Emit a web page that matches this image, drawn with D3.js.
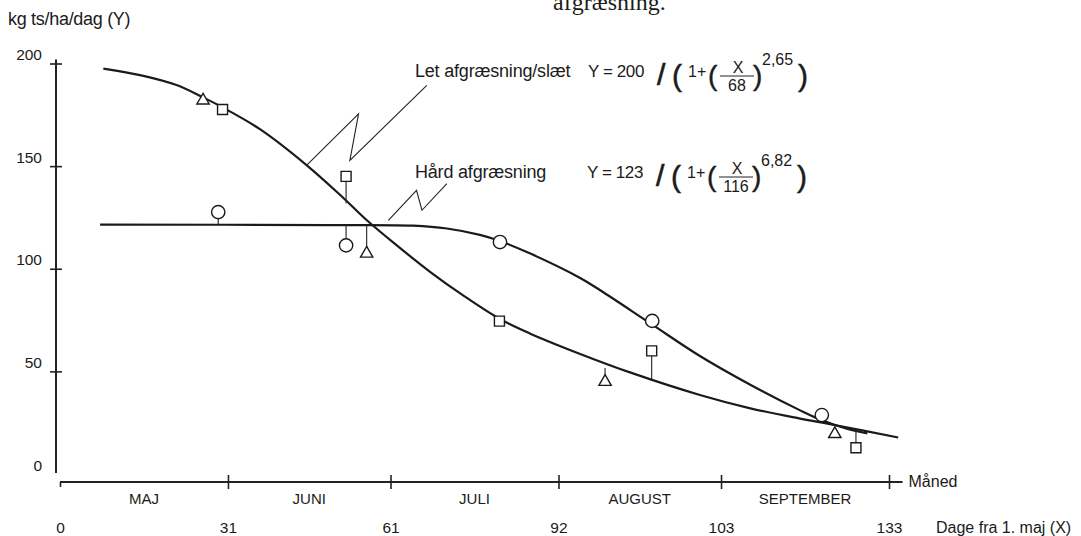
<!DOCTYPE html>
<meta charset="utf-8">
<script src="https://d3js.org/d3.v7.min.js"></script>
<head>
<style>
  body { margin: 0; background: #fff; }
  text { font-family: "Liberation Sans", Arial, sans-serif; fill: #1b1b1b; }
</style>
</head>
<body>
<div id="my_dataviz"></div>
<script>

// data: days from 1 May (X) and kg ts/ha/dag (Y)
var letCurve = [[8.0,197.5],[15.4,194.0],[21.5,189.5],[26.4,183.5],[30.1,178.5],[36.9,168.0],
  [45.5,150.5],[52.3,134.5],[56.9,123.0],[62.1,111.5],[68.3,98.5],[74.4,87.0],[81.2,75.5],
  [86.7,68.5],[96.0,58.5],[105.2,49.5],[118.1,38.5],[127.4,32.0],[136.6,27.0],[142.7,24.0],[154.7,17.8]];
var hardCurve = [[7.4,121.5],[49.8,121.3],[65.2,121.0],[71.4,119.6],[77.5,116.5],[81.2,113.5],
  [86.7,107.5],[96.0,95.5],[99.7,89.5],[108.9,73.5],[118.1,57.5],[127.4,43.5],[136.6,31.0],
  [140.3,26.5],[144.9,22.3],[149.0,19.8]];

// observations: [day, value, value on curve the stem goes to (null = on curve)]
var triangles = [[26.4,182.0,null],[56.6,107.4,121.5],[100.6,44.9,51.6],[143.0,19.5,22.9]];
var squares   = [[30.0,177.6,null],[52.8,145.0,131.9],[81.1,74.5,null],[109.2,60.0,45.3],[146.9,12.8,20.9]];
var circles   = [[29.2,127.6,121.5],[52.8,111.4,121.5],[81.2,113.0,null],[109.3,74.6,null],[140.6,28.7,null]];

// label pointers (zigzag lines)
var letPointer  = [[45.5,150.4],[55.1,175.5],[53.5,152.8],[67.7,189.3]];
var hardPointer = [[60.6,123.6],[65.8,138.2],[66.8,128.5],[71.4,141.5]];

var yTicks = [0, 50, 100, 150, 200];
var monthBounds = [0, 31, 61, 92, 122, 153];
var dayLabels = ["0", "31", "61", "92", "103", "133"];
var months = ["MAJ", "JUNI", "JULI", "AUGUST", "SEPTEMBER"];

var width = 1081, height = 536;

var svg = d3.select("#my_dataviz")
  .append("svg")
    .attr("width", width)
    .attr("height", height);

var x = d3.scaleLinear().domain([0, 153]).range([60, 889]);
var y = d3.scaleLinear().domain([0, 200]).range([474, 63.5]);
var xAxisY = 482, yAxisX = 56;

// caption fragment cut at the top of the scan
svg.append("text")
  .attr("x", 553).attr("y", 10)
  .style("font-family", "'Liberation Serif', 'Times New Roman', serif")
  .style("font-size", "24px")
  .text("afgræsning.");

// Y axis
var yAxis = svg.append("g")
  .attr("transform", "translate(" + yAxisX + ",0)")
  .call(d3.axisLeft(y).tickValues(yTicks).tickSizeOuter(0).tickSize(6));
yAxis.select(".domain").attr("stroke", "#222").attr("stroke-width", 2)
  .attr("d", "M0," + (y(200) - 4) + "V" + (y(0) - 1));
yAxis.selectAll(".tick line").attr("x1", -6).attr("x2", 6)
  .attr("stroke", "#222").attr("stroke-width", 1.6)
  .attr("opacity", function(d) { return d === 0 ? 0 : 1; });
yAxis.selectAll(".tick text")
  .attr("x", -14).attr("dy", "-0.25em")
  .style("font-size", "15.5px").style("font-family", "'Liberation Sans', Arial, sans-serif")
  .attr("fill", "#1b1b1b");

svg.append("text")
  .attr("x", 8).attr("y", 25)
  .style("font-size", "18px")
  .style("letter-spacing", "-0.3px")
  .text("kg ts/ha/dag (Y)");

// X axis
var xAxis = svg.append("g")
  .attr("transform", "translate(0," + xAxisY + ")")
  .call(d3.axisBottom(x).tickValues(monthBounds).tickSizeOuter(0)
    .tickFormat(function(d, i) { return dayLabels[i]; }));
xAxis.select(".domain").attr("stroke", "#222").attr("stroke-width", 2)
  .attr("d", "M" + x(0) + ",0H" + x(155.5));
xAxis.selectAll(".tick line")
  .attr("y1", function(d) { return d === 0 ? 0 : -7; })
  .attr("y2", function(d) { return d === 0 ? 5 : 7; })
  .attr("stroke", "#222").attr("stroke-width", 1.6);
xAxis.selectAll(".tick text")
  .attr("y", 51).attr("dy", 0)
  .style("font-size", "15.5px").style("font-family", "'Liberation Sans', Arial, sans-serif")
  .attr("fill", "#1b1b1b");

svg.selectAll(".month")
  .data(months)
  .enter()
  .append("text")
    .attr("class", "month")
    .attr("x", function(d, i) { return x((monthBounds[i] + monthBounds[i + 1]) / 2); })
    .attr("y", 504)
    .attr("text-anchor", "middle")
    .style("font-size", "15px")
    .text(function(d) { return d; });

svg.append("text").attr("x", x(155.5) + 6).attr("y", xAxisY + 5)
  .style("font-size", "16px").text("Måned");
svg.append("text").attr("x", 936).attr("y", 533)
  .style("font-size", "16px").text("Dage fra 1. maj (X)");

// curves
var line = d3.line()
  .x(function(d) { return x(d[0]); })
  .y(function(d) { return y(d[1]); })
  .curve(d3.curveCatmullRom.alpha(0.5));

[letCurve, hardCurve].forEach(function(c) {
  svg.append("path")
    .datum(c)
    .attr("d", line)
    .attr("fill", "none")
    .attr("stroke", "#1a1a1a")
    .attr("stroke-width", 2.2);
});

// pointers
var pline = d3.line()
  .x(function(d) { return x(d[0]); })
  .y(function(d) { return y(d[1]); });
[letPointer, hardPointer].forEach(function(p) {
  svg.append("path").datum(p).attr("d", pline)
    .attr("fill", "none").attr("stroke", "#222").attr("stroke-width", 1.1);
});

// stems and markers
var all = [];
triangles.forEach(function(d) { all.push({t: "tri", v: d}); });
squares.forEach(function(d) { all.push({t: "sq", v: d}); });
circles.forEach(function(d) { all.push({t: "ci", v: d}); });

svg.append("g").selectAll("line")
  .data(all.filter(function(d) { return d.v[2] !== null; }))
  .enter()
  .append("line")
    .attr("x1", function(d) { return x(d.v[0]); })
    .attr("x2", function(d) { return x(d.v[0]); })
    .attr("y1", function(d) { return y(d.v[1]); })
    .attr("y2", function(d) { return y(d.v[2]); })
    .attr("stroke", "#222")
    .attr("stroke-width", 1.1);

var sym = {
  tri: d3.symbol().type(d3.symbolTriangle).size(66),
  sq: d3.symbol().type(d3.symbolSquare).size(100),
  ci: d3.symbol().type(d3.symbolCircle).size(140)
};

svg.append("g").selectAll("path")
  .data(all)
  .enter()
  .append("path")
    .attr("d", function(d) { return sym[d.t](); })
    .attr("transform", function(d) { return "translate(" + x(d.v[0]) + "," + y(d.v[1]) + ")"; })
    .attr("fill", "#fff")
    .attr("stroke", "#1a1a1a")
    .attr("stroke-width", 1.4);

// labels and formulas
function formula(x0, base, label, lx, a, den, ex) {
  var g = svg.append("g");
  g.append("text").attr("x", lx).attr("y", base).style("font-size", "18px")
    .style("letter-spacing", "-0.2px").text(label);
  g.append("text").attr("x", x0).attr("y", base).style("font-size", "17px")
    .style("letter-spacing", "-0.4px").text("Y = " + a);
  g.append("text").attr("x", x0 + 69).attr("y", base + 8).style("font-size", "30px")
    .style("stroke", "#1b1b1b").style("stroke-width", 0.7).text("/");
  g.append("text").attr("x", x0 + 84).attr("y", base + 9).style("font-size", "30px")
    .style("stroke", "#1b1b1b").style("stroke-width", 0.5).text("(");
  g.append("text").attr("x", x0 + 100).attr("y", base).style("font-size", "16px").text("1+");
  g.append("text").attr("x", x0 + 120).attr("y", base + 8).style("font-size", "28px")
    .style("stroke", "#1b1b1b").style("stroke-width", 0.4).text("(");
  g.append("text").attr("x", x0 + 150).attr("y", base - 4).attr("text-anchor", "middle")
    .style("font-size", "16px").text("X");
  g.append("line").attr("x1", x0 + 132).attr("x2", x0 + 166)
    .attr("y1", base - 1).attr("y2", base - 1).attr("stroke", "#222").attr("stroke-width", 1);
  g.append("text").attr("x", x0 + 149).attr("y", base + 14).attr("text-anchor", "middle")
    .style("font-size", "16px").text(den);
  g.append("text").attr("x", x0 + 165).attr("y", base + 8).style("font-size", "28px")
    .style("stroke", "#1b1b1b").style("stroke-width", 0.4).text(")");
  g.append("text").attr("x", x0 + 174).attr("y", base - 12).style("font-size", "16px").text(ex);
  g.append("text").attr("x", x0 + 210).attr("y", base + 9).style("font-size", "30px")
    .style("stroke", "#1b1b1b").style("stroke-width", 0.5).text(")");
}
formula(588, 77, "Let afgræsning/slæt", 415, "200", "68", "2,65");
formula(587, 178, "Hård afgræsning", 415, "123", "116", "6,82");

</script>
</body>
